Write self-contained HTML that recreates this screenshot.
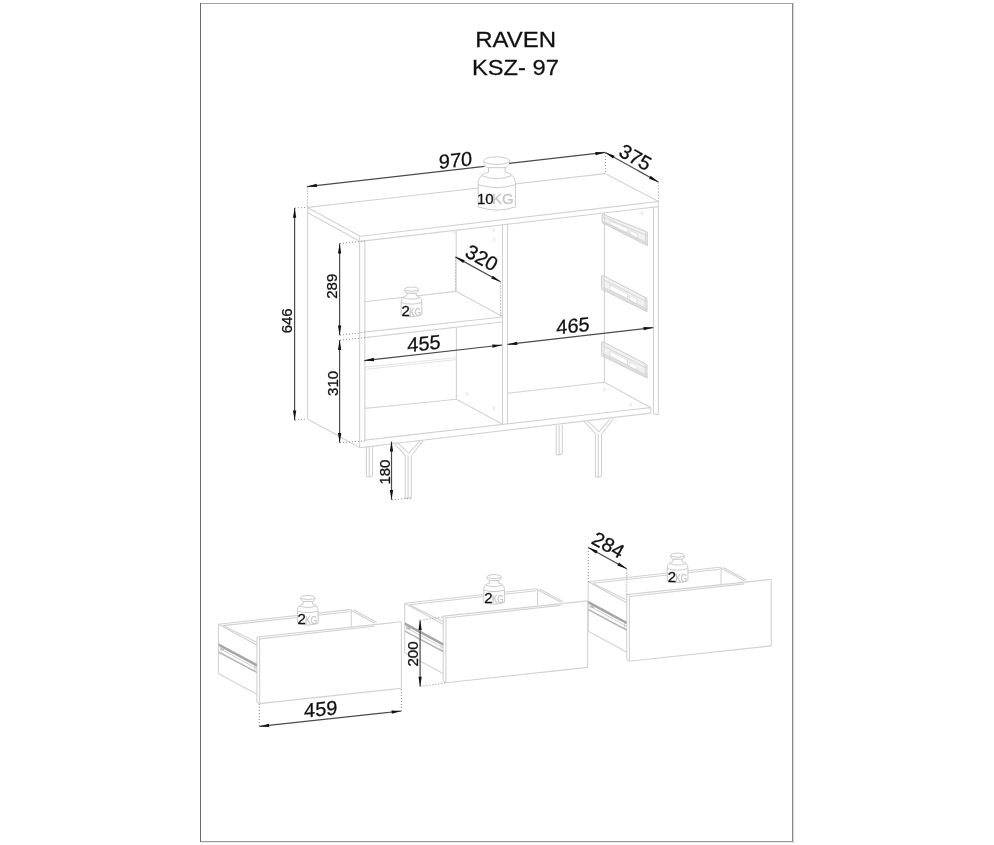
<!DOCTYPE html>
<html><head><meta charset="utf-8"><style>
html,body{margin:0;padding:0;background:#fff;}
svg{position:absolute;left:0;top:0;will-change:transform;filter:blur(0.3px);}
.cab{stroke:#d2d2d2;stroke-width:1.1;fill:none;}
.cab2{stroke:#e2e2e2;stroke-width:1;fill:none;}
.runf{fill:#f1f1f1;stroke:#c6c6c6;stroke-width:0.9;}
.runl{stroke:#cfcfcf;stroke-width:0.8;}
.run{stroke:#c4c4c4;stroke-width:0.8;fill:none;}
.rund{stroke:#a8a8a8;stroke-width:1.2;fill:none;}
.dim{stroke:#4a4a4a;stroke-width:1.2;fill:none;}
.ah{fill:#111;stroke:none;}
.ext{stroke:#8c8c8c;stroke-width:1;stroke-dasharray:1 2;fill:none;}
.wt{stroke:#c8c8c8;fill:none;}
.wt .o{fill:#fff}
text{font-family:"Liberation Sans",sans-serif;fill:#111;stroke:#111;stroke-width:0.28;}
.kg{fill:#c4c4c4;stroke:#c4c4c4;}
</style></head><body>
<svg width="994" height="845" viewBox="0 0 994 845">
<rect x="200" y="3" width="593" height="1" fill="#a2a2a2"/>
<rect x="200" y="841" width="593" height="1" fill="#9a9a9a"/>
<rect x="200" y="842" width="593" height="1" fill="#ececec"/>
<rect x="792" y="3" width="1" height="839" fill="#888"/>
<rect x="793" y="3" width="1" height="840" fill="#d6d6d6"/>
<rect x="200" y="3" width="1" height="839" fill="#6b6b6b"/>
<polyline class="cab" points="307.4,207.4 605.3,173.6 658.4,201.5"/>
<line class="cab" x1="307.4" y1="207.4" x2="360.3" y2="236.3"/>
<line class="cab" x1="360.3" y1="236.3" x2="658.4" y2="201.5"/>
<line class="cab" x1="360.3" y1="241.4" x2="658.4" y2="206.6"/>
<line class="cab" x1="658.4" y1="201.5" x2="658.4" y2="206.6"/>
<line class="cab" x1="307.4" y1="212.6" x2="358.4" y2="240.5"/>
<line class="cab" x1="307.6" y1="207.4" x2="307.6" y2="419.0"/>
<line class="cab" x1="307.6" y1="419.0" x2="360.0" y2="447.7"/>
<line class="cab" x1="359.6" y1="236.3" x2="359.6" y2="447.7"/>
<line class="cab" x1="364.9" y1="241.0" x2="364.9" y2="440.4"/>
<line class="cab" x1="653.5" y1="207.2" x2="653.5" y2="414.0"/>
<line class="cab" x1="658.4" y1="206.6" x2="658.4" y2="414.6"/>
<line class="cab" x1="653.5" y1="414.0" x2="658.4" y2="414.6"/>
<line class="cab" x1="604.4" y1="212.5" x2="604.4" y2="382.3"/>
<line class="cab" x1="502.5" y1="224.0" x2="502.5" y2="424.6"/>
<line class="cab" x1="507.5" y1="223.4" x2="507.5" y2="424.0"/>
<line class="cab" x1="456.2" y1="230.6" x2="456.2" y2="291.4"/>
<line class="cab" x1="456.4" y1="327.8" x2="456.4" y2="399.2"/>
<line class="cab" x1="364.9" y1="301.7" x2="456.2" y2="291.4"/>
<line class="cab" x1="456.2" y1="291.4" x2="502.5" y2="316.5"/>
<line class="cab" x1="364.9" y1="332.0" x2="502.5" y2="317.0"/>
<line class="cab" x1="364.9" y1="337.6" x2="502.5" y2="322.0"/>
<line class="cab2" x1="364.9" y1="367.3" x2="456.4" y2="357.6"/>
<line class="cab2" x1="364.9" y1="369.5" x2="456.4" y2="359.6"/>
<line class="cab" x1="364.9" y1="408.4" x2="456.4" y2="399.2"/>
<line class="cab" x1="456.4" y1="399.2" x2="502.5" y2="424.3"/>
<line class="cab" x1="364.9" y1="440.1" x2="650.8" y2="407.6"/>
<line class="cab" x1="359.8" y1="447.7" x2="650.8" y2="413.1"/>
<line class="cab" x1="650.8" y1="407.6" x2="650.8" y2="413.1"/>
<line class="cab" x1="507.5" y1="393.2" x2="604.4" y2="382.3"/>
<line class="cab" x1="604.4" y1="382.3" x2="650.8" y2="407.6"/>
<ellipse class="cab2" cx="493.8" cy="230" rx="0.9" ry="1.6"/>
<ellipse class="cab2" cx="494.2" cy="239.5" rx="0.9" ry="1.6"/>
<ellipse class="cab2" cx="467.2" cy="393.9" rx="0.9" ry="1.6"/>
<ellipse class="cab2" cx="493.7" cy="408.4" rx="0.9" ry="1.6"/>
<ellipse class="cab2" cx="604.5" cy="389.7" rx="0.9" ry="1.6"/>
<ellipse class="cab2" cx="630.8" cy="404.6" rx="0.9" ry="1.6"/>
<ellipse class="cab2" cx="642" cy="213.4" rx="0.9" ry="1.6"/>
<ellipse class="cab2" cx="454.5" cy="232" rx="0.9" ry="1.6"/>
<line class="cab" x1="366.4" y1="446.8" x2="366.4" y2="476.6"/>
<line class="cab" x1="369.3" y1="447.1" x2="369.3" y2="476.9"/>
<line class="cab" x1="372.5" y1="446.5" x2="372.5" y2="476.0"/>
<polyline class="cab" points="366.4,476.6 369.3,476.9 372.5,476.0"/>
<line class="cab" x1="556.2" y1="425.0" x2="556.2" y2="454.6"/>
<line class="cab" x1="559.1" y1="425.3" x2="559.1" y2="454.9"/>
<line class="cab" x1="562.3" y1="424.7" x2="562.3" y2="454.0"/>
<polyline class="cab" points="556.2,454.6 559.1,454.9 562.3,454.0"/>
<line class="cab" x1="405.2" y1="455.3" x2="405.2" y2="498.4"/>
<line class="cab" x1="408.1" y1="455.6" x2="408.1" y2="498.7"/>
<line class="cab" x1="411.3" y1="455.0" x2="411.3" y2="497.8"/>
<polyline class="cab" points="405.2,498.4 408.1,498.7 411.3,497.8"/>
<line class="cab" x1="393.2" y1="442.1" x2="405.2" y2="455.3"/>
<line class="cab" x1="396.6" y1="441.9" x2="408.7" y2="453.4"/>
<line class="cab" x1="423.2" y1="440.7" x2="412.3" y2="454.5"/>
<line class="cab" x1="420.0" y1="440.9" x2="408.7" y2="453.4"/>
<line class="cab" x1="595.4" y1="433.6" x2="595.4" y2="476.9"/>
<line class="cab" x1="598.3" y1="433.9" x2="598.3" y2="477.2"/>
<line class="cab" x1="601.5" y1="433.3" x2="601.5" y2="476.3"/>
<polyline class="cab" points="595.4,476.9 598.3,477.2 601.5,476.3"/>
<line class="cab" x1="583.4" y1="420.4" x2="595.4" y2="433.6"/>
<line class="cab" x1="586.8" y1="420.2" x2="598.9" y2="431.7"/>
<line class="cab" x1="613.4" y1="419.0" x2="602.5" y2="432.8"/>
<line class="cab" x1="610.2" y1="419.2" x2="598.9" y2="431.7"/>
<polygon class="runf" points="602.0,214.7 603.6,214.6 647.3,232.0 647.3,245.6 645.9,244.9 602.0,222.6"/>
<polygon fill="#fff" stroke="#d0d0d0" stroke-width="0.6" points="610.2,221.0 627.8,228.8 627.8,232.8 610.2,224.4"/>
<polygon fill="#fff" stroke="#d0d0d0" stroke-width="0.6" points="630.1,230.4 637.3,233.7 637.3,238.0 630.1,234.5"/>
<line class="runl" x1="603.6" y1="217.0" x2="647.3" y2="235.7"/>
<line class="runl" x1="603.6" y1="221.7" x2="647.3" y2="242.9"/>
<line class="runl" x1="603.6" y1="222.5" x2="647.3" y2="244.2"/>
<line class="runl" x1="604.5" y1="215.4" x2="604.5" y2="223.4"/>
<line class="runl" x1="645.5" y1="231.9" x2="645.5" y2="244.0"/>
<polygon class="runf" points="601.7,276.0 603.3,275.6 647.0,298.4 647.0,311.7 645.6,311.0 601.7,289.3"/>
<polygon fill="#fff" stroke="#d0d0d0" stroke-width="0.6" points="609.9,284.8 627.5,293.8 627.5,298.6 609.9,289.8"/>
<polygon fill="#fff" stroke="#d0d0d0" stroke-width="0.6" points="629.8,295.6 637.0,299.3 637.0,304.1 629.8,300.4"/>
<line class="runl" x1="603.3" y1="279.5" x2="647.0" y2="302.0"/>
<line class="runl" x1="603.3" y1="287.2" x2="647.0" y2="309.0"/>
<line class="runl" x1="603.3" y1="288.6" x2="647.0" y2="310.4"/>
<line class="runl" x1="604.2" y1="276.8" x2="604.2" y2="289.8"/>
<line class="runl" x1="645.2" y1="298.1" x2="645.2" y2="310.1"/>
<polygon class="runf" points="601.7,342.3 603.3,341.9 647.0,364.7 647.0,378.0 645.6,377.3 601.7,355.6"/>
<polygon fill="#fff" stroke="#d0d0d0" stroke-width="0.6" points="609.9,351.1 627.5,360.1 627.5,364.9 609.9,356.1"/>
<polygon fill="#fff" stroke="#d0d0d0" stroke-width="0.6" points="629.8,361.9 637.0,365.6 637.0,370.4 629.8,366.7"/>
<line class="runl" x1="603.3" y1="345.8" x2="647.0" y2="368.3"/>
<line class="runl" x1="603.3" y1="353.5" x2="647.0" y2="375.3"/>
<line class="runl" x1="603.3" y1="354.9" x2="647.0" y2="376.7"/>
<line class="runl" x1="604.2" y1="343.1" x2="604.2" y2="356.1"/>
<line class="runl" x1="645.2" y1="364.4" x2="645.2" y2="376.4"/>
<g transform="translate(0.0 0.0)">
<line class="cab" x1="218.4" y1="624.2" x2="349.5" y2="609.6"/>
<line class="cab" x1="223.0" y1="625.6" x2="349.8" y2="611.7"/>
<line class="cab" x1="218.4" y1="624.2" x2="257.2" y2="645.3"/>
<line class="cab" x1="223.0" y1="625.6" x2="257.2" y2="642.6"/>
<line class="cab" x1="218.4" y1="624.2" x2="218.4" y2="673.6"/>
<line class="cab" x1="218.4" y1="673.6" x2="257.2" y2="694.6"/>
<line class="cab" x1="351.3" y1="609.6" x2="351.3" y2="626.5"/>
<line class="cab" x1="349.5" y1="609.6" x2="374.5" y2="623.2"/>
<line class="cab" x1="353.5" y1="609.8" x2="376.8" y2="622.6"/>
<line class="cab" x1="256.9" y1="637.0" x2="256.9" y2="702.0"/>
<line class="cab" x1="259.6" y1="637.6" x2="259.6" y2="703.6"/>
<line class="cab" x1="257.2" y1="637.0" x2="401.4" y2="621.8"/>
<line class="cab" x1="259.3" y1="638.9" x2="374.5" y2="626.3"/>
<line class="cab" x1="401.4" y1="621.8" x2="401.4" y2="688.3"/>
<line class="cab" x1="259.6" y1="703.6" x2="401.4" y2="688.3"/>
<line class="cab" x1="256.9" y1="702.0" x2="259.6" y2="703.6"/>
<polygon fill="#a6a6a6" points="218.6,643.2 256.8,663.8 256.8,666.7 218.6,646.1"/>
<line stroke="#b6b6b6" stroke-width="1.6" x1="218.6" y1="652.0" x2="256.8" y2="672.4"/>
<line class="run" x1="220.5" y1="649.0" x2="256.8" y2="668.6"/>
<line class="run" x1="254.8" y1="665.5" x2="254.8" y2="671.0"/>
<line class="run" x1="220.3" y1="646.5" x2="220.3" y2="651.0"/>
<line class="rund" x1="229.5" y1="651.2" x2="233.5" y2="653.4"/>
<line class="rund" x1="240.5" y1="656.5" x2="243.0" y2="657.9"/>
<line class="rund" x1="221.0" y1="648.5" x2="224.0" y2="650.0"/>
</g>
<g transform="translate(186.3 -20.9)">
<line class="cab" x1="218.4" y1="624.2" x2="349.5" y2="609.6"/>
<line class="cab" x1="223.0" y1="625.6" x2="349.8" y2="611.7"/>
<line class="cab" x1="218.4" y1="624.2" x2="257.2" y2="645.3"/>
<line class="cab" x1="223.0" y1="625.6" x2="257.2" y2="642.6"/>
<line class="cab" x1="218.4" y1="624.2" x2="218.4" y2="673.6"/>
<line class="cab" x1="218.4" y1="673.6" x2="257.2" y2="694.6"/>
<line class="cab" x1="351.3" y1="609.6" x2="351.3" y2="626.5"/>
<line class="cab" x1="349.5" y1="609.6" x2="374.5" y2="623.2"/>
<line class="cab" x1="353.5" y1="609.8" x2="376.8" y2="622.6"/>
<line class="cab" x1="256.9" y1="637.0" x2="256.9" y2="702.0"/>
<line class="cab" x1="259.6" y1="637.6" x2="259.6" y2="703.6"/>
<line class="cab" x1="257.2" y1="637.0" x2="401.4" y2="621.8"/>
<line class="cab" x1="259.3" y1="638.9" x2="374.5" y2="626.3"/>
<line class="cab" x1="401.4" y1="621.8" x2="401.4" y2="688.3"/>
<line class="cab" x1="259.6" y1="703.6" x2="401.4" y2="688.3"/>
<line class="cab" x1="256.9" y1="702.0" x2="259.6" y2="703.6"/>
<polygon fill="#a6a6a6" points="218.6,643.2 256.8,663.8 256.8,666.7 218.6,646.1"/>
<line stroke="#b6b6b6" stroke-width="1.6" x1="218.6" y1="652.0" x2="256.8" y2="672.4"/>
<line class="run" x1="220.5" y1="649.0" x2="256.8" y2="668.6"/>
<line class="run" x1="254.8" y1="665.5" x2="254.8" y2="671.0"/>
<line class="run" x1="220.3" y1="646.5" x2="220.3" y2="651.0"/>
<line class="rund" x1="229.5" y1="651.2" x2="233.5" y2="653.4"/>
<line class="rund" x1="240.5" y1="656.5" x2="243.0" y2="657.9"/>
<line class="rund" x1="221.0" y1="648.5" x2="224.0" y2="650.0"/>
</g>
<g transform="translate(369.8 -42.4)">
<line class="cab" x1="218.4" y1="624.2" x2="349.5" y2="609.6"/>
<line class="cab" x1="223.0" y1="625.6" x2="349.8" y2="611.7"/>
<line class="cab" x1="218.4" y1="624.2" x2="257.2" y2="645.3"/>
<line class="cab" x1="223.0" y1="625.6" x2="257.2" y2="642.6"/>
<line class="cab" x1="218.4" y1="624.2" x2="218.4" y2="673.6"/>
<line class="cab" x1="218.4" y1="673.6" x2="257.2" y2="694.6"/>
<line class="cab" x1="351.3" y1="609.6" x2="351.3" y2="626.5"/>
<line class="cab" x1="349.5" y1="609.6" x2="374.5" y2="623.2"/>
<line class="cab" x1="353.5" y1="609.8" x2="376.8" y2="622.6"/>
<line class="cab" x1="256.9" y1="637.0" x2="256.9" y2="702.0"/>
<line class="cab" x1="259.6" y1="637.6" x2="259.6" y2="703.6"/>
<line class="cab" x1="257.2" y1="637.0" x2="401.4" y2="621.8"/>
<line class="cab" x1="259.3" y1="638.9" x2="374.5" y2="626.3"/>
<line class="cab" x1="401.4" y1="621.8" x2="401.4" y2="688.3"/>
<line class="cab" x1="259.6" y1="703.6" x2="401.4" y2="688.3"/>
<line class="cab" x1="256.9" y1="702.0" x2="259.6" y2="703.6"/>
<polygon fill="#a6a6a6" points="218.6,643.2 256.8,663.8 256.8,666.7 218.6,646.1"/>
<line stroke="#b6b6b6" stroke-width="1.6" x1="218.6" y1="652.0" x2="256.8" y2="672.4"/>
<line class="run" x1="220.5" y1="649.0" x2="256.8" y2="668.6"/>
<line class="run" x1="254.8" y1="665.5" x2="254.8" y2="671.0"/>
<line class="run" x1="220.3" y1="646.5" x2="220.3" y2="651.0"/>
<line class="rund" x1="229.5" y1="651.2" x2="233.5" y2="653.4"/>
<line class="rund" x1="240.5" y1="656.5" x2="243.0" y2="657.9"/>
<line class="rund" x1="221.0" y1="648.5" x2="224.0" y2="650.0"/>
</g>
<g transform="translate(496.80 156.90) scale(1.000)" class="wt" style="stroke-width:0.95"><path class="o" d="M-8.3,10.5 L-8.3,15.4 C-14,16 -18.6,20 -18.6,26.9 L-18.6,50 Q0,56.4 18.6,50 L18.6,26.9 C18.6,20 14,16 8.3,15.4 L8.3,10.5 Z"/><path class="o" d="M-12.9,4.2 C-12.9,-1.4 12.9,-1.4 12.9,4.2 C12.9,7.8 10.5,10.8 8.3,10.8 L-8.3,10.8 C-10.5,10.8 -12.9,7.8 -12.9,4.2 Z"/><path d="M-12.4,5.6 Q0,9.6 12.4,5.6"/><path d="M-14.8,18.8 Q0,24.6 14.8,18.8"/><path d="M-18.6,27.8 Q0,33.6 18.6,27.8"/></g>
<g transform="translate(411.50 287.10) scale(0.555)" class="wt" style="stroke-width:1.71"><path class="o" d="M-8.3,10.5 L-8.3,15.4 C-14,16 -18.6,20 -18.6,26.9 L-18.6,50 Q0,56.4 18.6,50 L18.6,26.9 C18.6,20 14,16 8.3,15.4 L8.3,10.5 Z"/><path class="o" d="M-12.9,4.2 C-12.9,-1.4 12.9,-1.4 12.9,4.2 C12.9,7.8 10.5,10.8 8.3,10.8 L-8.3,10.8 C-10.5,10.8 -12.9,7.8 -12.9,4.2 Z"/><path d="M-12.4,5.6 Q0,9.6 12.4,5.6"/><path d="M-14.8,18.8 Q0,24.6 14.8,18.8"/><path d="M-18.6,27.8 Q0,33.6 18.6,27.8"/></g>
<g transform="translate(307.80 595.50) scale(0.555)" class="wt" style="stroke-width:1.71"><path class="o" d="M-8.3,10.5 L-8.3,15.4 C-14,16 -18.6,20 -18.6,26.9 L-18.6,50 Q0,56.4 18.6,50 L18.6,26.9 C18.6,20 14,16 8.3,15.4 L8.3,10.5 Z"/><path class="o" d="M-12.9,4.2 C-12.9,-1.4 12.9,-1.4 12.9,4.2 C12.9,7.8 10.5,10.8 8.3,10.8 L-8.3,10.8 C-10.5,10.8 -12.9,7.8 -12.9,4.2 Z"/><path d="M-12.4,5.6 Q0,9.6 12.4,5.6"/><path d="M-14.8,18.8 Q0,24.6 14.8,18.8"/><path d="M-18.6,27.8 Q0,33.6 18.6,27.8"/></g>
<g transform="translate(494.10 574.60) scale(0.555)" class="wt" style="stroke-width:1.71"><path class="o" d="M-8.3,10.5 L-8.3,15.4 C-14,16 -18.6,20 -18.6,26.9 L-18.6,50 Q0,56.4 18.6,50 L18.6,26.9 C18.6,20 14,16 8.3,15.4 L8.3,10.5 Z"/><path class="o" d="M-12.9,4.2 C-12.9,-1.4 12.9,-1.4 12.9,4.2 C12.9,7.8 10.5,10.8 8.3,10.8 L-8.3,10.8 C-10.5,10.8 -12.9,7.8 -12.9,4.2 Z"/><path d="M-12.4,5.6 Q0,9.6 12.4,5.6"/><path d="M-14.8,18.8 Q0,24.6 14.8,18.8"/><path d="M-18.6,27.8 Q0,33.6 18.6,27.8"/></g>
<g transform="translate(677.60 553.10) scale(0.555)" class="wt" style="stroke-width:1.71"><path class="o" d="M-8.3,10.5 L-8.3,15.4 C-14,16 -18.6,20 -18.6,26.9 L-18.6,50 Q0,56.4 18.6,50 L18.6,26.9 C18.6,20 14,16 8.3,15.4 L8.3,10.5 Z"/><path class="o" d="M-12.9,4.2 C-12.9,-1.4 12.9,-1.4 12.9,4.2 C12.9,7.8 10.5,10.8 8.3,10.8 L-8.3,10.8 C-10.5,10.8 -12.9,7.8 -12.9,4.2 Z"/><path d="M-12.4,5.6 Q0,9.6 12.4,5.6"/><path d="M-14.8,18.8 Q0,24.6 14.8,18.8"/><path d="M-18.6,27.8 Q0,33.6 18.6,27.8"/></g>
<line class="dim" x1="307.1" y1="186.6" x2="484.5" y2="166.3"/>
<line class="dim" x1="509.2" y1="163.4" x2="605.2" y2="152.4"/>
<polygon class="ah" points="307.10,186.60 316.65,183.84 317.02,187.12"/>
<polygon class="ah" points="605.20,152.40 595.65,155.16 595.28,151.88"/>
<line class="ext" x1="307.4" y1="187.5" x2="307.4" y2="207.0"/>
<line class="ext" x1="605.3" y1="153.0" x2="605.3" y2="173.3"/>
<line class="dim" x1="605.3" y1="152.4" x2="658.4" y2="182.0"/>
<polygon class="ah" points="605.30,152.40 614.66,155.73 613.06,158.61"/>
<polygon class="ah" points="658.40,182.00 649.04,178.67 650.64,175.79"/>
<line class="ext" x1="658.4" y1="182.5" x2="658.4" y2="201.0"/>
<line class="dim" x1="294.6" y1="208.0" x2="294.6" y2="420.2"/>
<polygon class="ah" points="294.60,208.00 296.25,217.80 292.95,217.80"/>
<polygon class="ah" points="294.60,420.20 292.95,410.40 296.25,410.40"/>
<line class="ext" x1="295.0" y1="208.0" x2="307.0" y2="207.4"/>
<line class="ext" x1="295.0" y1="420.2" x2="307.0" y2="419.0"/>
<line class="dim" x1="339.6" y1="243.6" x2="339.6" y2="335.2"/>
<polygon class="ah" points="339.60,243.60 341.25,253.40 337.95,253.40"/>
<polygon class="ah" points="339.60,335.20 337.95,325.40 341.25,325.40"/>
<line class="ext" x1="340.0" y1="243.6" x2="364.6" y2="240.8"/>
<line class="ext" x1="340.0" y1="335.2" x2="364.9" y2="332.3"/>
<line class="ext" x1="340.0" y1="340.1" x2="364.9" y2="337.6"/>
<line class="dim" x1="339.6" y1="340.1" x2="339.6" y2="442.7"/>
<polygon class="ah" points="339.60,340.10 341.25,349.90 337.95,349.90"/>
<polygon class="ah" points="339.60,442.70 337.95,432.90 341.25,432.90"/>
<line class="ext" x1="340.0" y1="442.7" x2="365.0" y2="441.0"/>
<line class="dim" x1="391.5" y1="441.6" x2="391.5" y2="499.8"/>
<polygon class="ah" points="391.50,441.60 393.15,451.40 389.85,451.40"/>
<polygon class="ah" points="391.50,499.80 389.85,490.00 393.15,490.00"/>
<line class="ext" x1="392.0" y1="499.8" x2="411.8" y2="497.9"/>
<line class="dim" x1="455.4" y1="256.9" x2="500.6" y2="281.8"/>
<polygon class="ah" points="455.40,256.90 464.78,260.18 463.19,263.07"/>
<polygon class="ah" points="500.60,281.80 491.22,278.52 492.81,275.63"/>
<line class="ext" x1="455.4" y1="257.5" x2="455.4" y2="291.0"/>
<line class="ext" x1="500.6" y1="282.5" x2="500.6" y2="316.0"/>
<line class="dim" x1="364.2" y1="360.6" x2="502.1" y2="345.0"/>
<polygon class="ah" points="364.20,360.60 373.75,357.86 374.12,361.14"/>
<polygon class="ah" points="502.10,345.00 492.55,347.74 492.18,344.46"/>
<line class="dim" x1="507.5" y1="344.4" x2="653.3" y2="327.6"/>
<polygon class="ah" points="507.50,344.40 517.05,341.64 517.42,344.92"/>
<polygon class="ah" points="653.30,327.60 643.75,330.36 643.38,327.08"/>
<line class="dim" x1="259.3" y1="726.4" x2="401.4" y2="711.0"/>
<polygon class="ah" points="259.30,726.40 268.87,723.70 269.22,726.98"/>
<polygon class="ah" points="401.40,711.00 391.83,713.70 391.48,710.42"/>
<line class="ext" x1="259.3" y1="704.0" x2="259.3" y2="726.0"/>
<line class="ext" x1="401.4" y1="689.0" x2="401.4" y2="711.0"/>
<line class="dim" x1="420.1" y1="620.2" x2="420.1" y2="686.6"/>
<polygon class="ah" points="420.10,620.20 421.75,630.00 418.45,630.00"/>
<polygon class="ah" points="420.10,686.60 418.45,676.80 421.75,676.80"/>
<line class="ext" x1="420.5" y1="620.2" x2="443.2" y2="616.9"/>
<line class="ext" x1="420.5" y1="686.6" x2="445.3" y2="683.0"/>
<line class="dim" x1="588.3" y1="547.5" x2="626.7" y2="568.8"/>
<polygon class="ah" points="588.30,547.50 597.67,550.81 596.07,553.70"/>
<polygon class="ah" points="626.70,568.80 617.33,565.49 618.93,562.60"/>
<line class="ext" x1="588.3" y1="548.0" x2="588.3" y2="582.0"/>
<line class="ext" x1="626.7" y1="569.5" x2="626.7" y2="595.0"/>
<text class="t" x="0.00" y="0.00" font-size="24" text-anchor="middle" transform="translate(515.70 47.10) scale(1 0.915)">RAVEN</text>
<text class="t" x="0.00" y="0.00" font-size="23.7" text-anchor="middle" transform="translate(515.40 75.30) scale(1 0.915)">KSZ- 97</text>
<text class="t" x="0.00" y="0.00" font-size="20" text-anchor="middle" transform="translate(455.50 167.20) skewY(-6.50)">970</text>
<text class="t" x="632.00" y="163.40" font-size="20" text-anchor="middle" transform="rotate(29.20 632.00 163.40)">375</text>
<text class="t" x="292.35" y="320.80" font-size="15" text-anchor="middle" transform="rotate(-90.00 292.35 320.80)">646</text>
<text class="t" x="337.35" y="286.20" font-size="15" text-anchor="middle" transform="rotate(-90.00 337.35 286.20)">289</text>
<text class="t" x="337.80" y="383.40" font-size="15" text-anchor="middle" transform="rotate(-90.00 337.80 383.40)">310</text>
<text class="t" x="389.80" y="472.10" font-size="15" text-anchor="middle" transform="rotate(-90.00 389.80 472.10)">180</text>
<text class="t" x="417.60" y="654.00" font-size="15" text-anchor="middle" transform="rotate(-90.00 417.60 654.00)">200</text>
<text class="t" x="478.40" y="263.90" font-size="20" text-anchor="middle" transform="rotate(29.00 478.40 263.90)">320</text>
<text class="t" x="0.00" y="0.00" font-size="20" text-anchor="middle" transform="translate(424.00 350.30) skewY(-6.50)">455</text>
<text class="t" x="0.00" y="0.00" font-size="20" text-anchor="middle" transform="translate(573.00 332.60) skewY(-6.50)">465</text>
<text class="t" x="0.00" y="0.00" font-size="20" text-anchor="middle" transform="translate(320.70 716.00) skewY(-6.20)">459</text>
<text class="t" x="604.90" y="551.00" font-size="20" text-anchor="middle" transform="rotate(29.00 604.90 551.00)">284</text>
<text class="t" x="485.30" y="204.20" font-size="15" text-anchor="middle">10</text>
<text class="kg" x="502.80" y="204.20" font-size="15" text-anchor="middle">KG</text>
<text class="t" x="405.55" y="316.00" font-size="15" text-anchor="middle">2</text>
<text class="kg" x="0.00" y="0.00" font-size="10.5" text-anchor="middle" transform="translate(415.10 316.00) scale(0.76 1)">KG</text>
<text class="t" x="301.75" y="623.70" font-size="15" text-anchor="middle">2</text>
<text class="kg" x="0.00" y="0.00" font-size="10.5" text-anchor="middle" transform="translate(311.10 623.70) scale(0.76 1)">KG</text>
<text class="t" x="488.40" y="602.90" font-size="15" text-anchor="middle">2</text>
<text class="kg" x="0.00" y="0.00" font-size="10.5" text-anchor="middle" transform="translate(497.70 602.90) scale(0.76 1)">KG</text>
<text class="t" x="671.90" y="581.50" font-size="15" text-anchor="middle">2</text>
<text class="kg" x="0.00" y="0.00" font-size="10.5" text-anchor="middle" transform="translate(681.20 581.50) scale(0.76 1)">KG</text>
</svg></body></html>
